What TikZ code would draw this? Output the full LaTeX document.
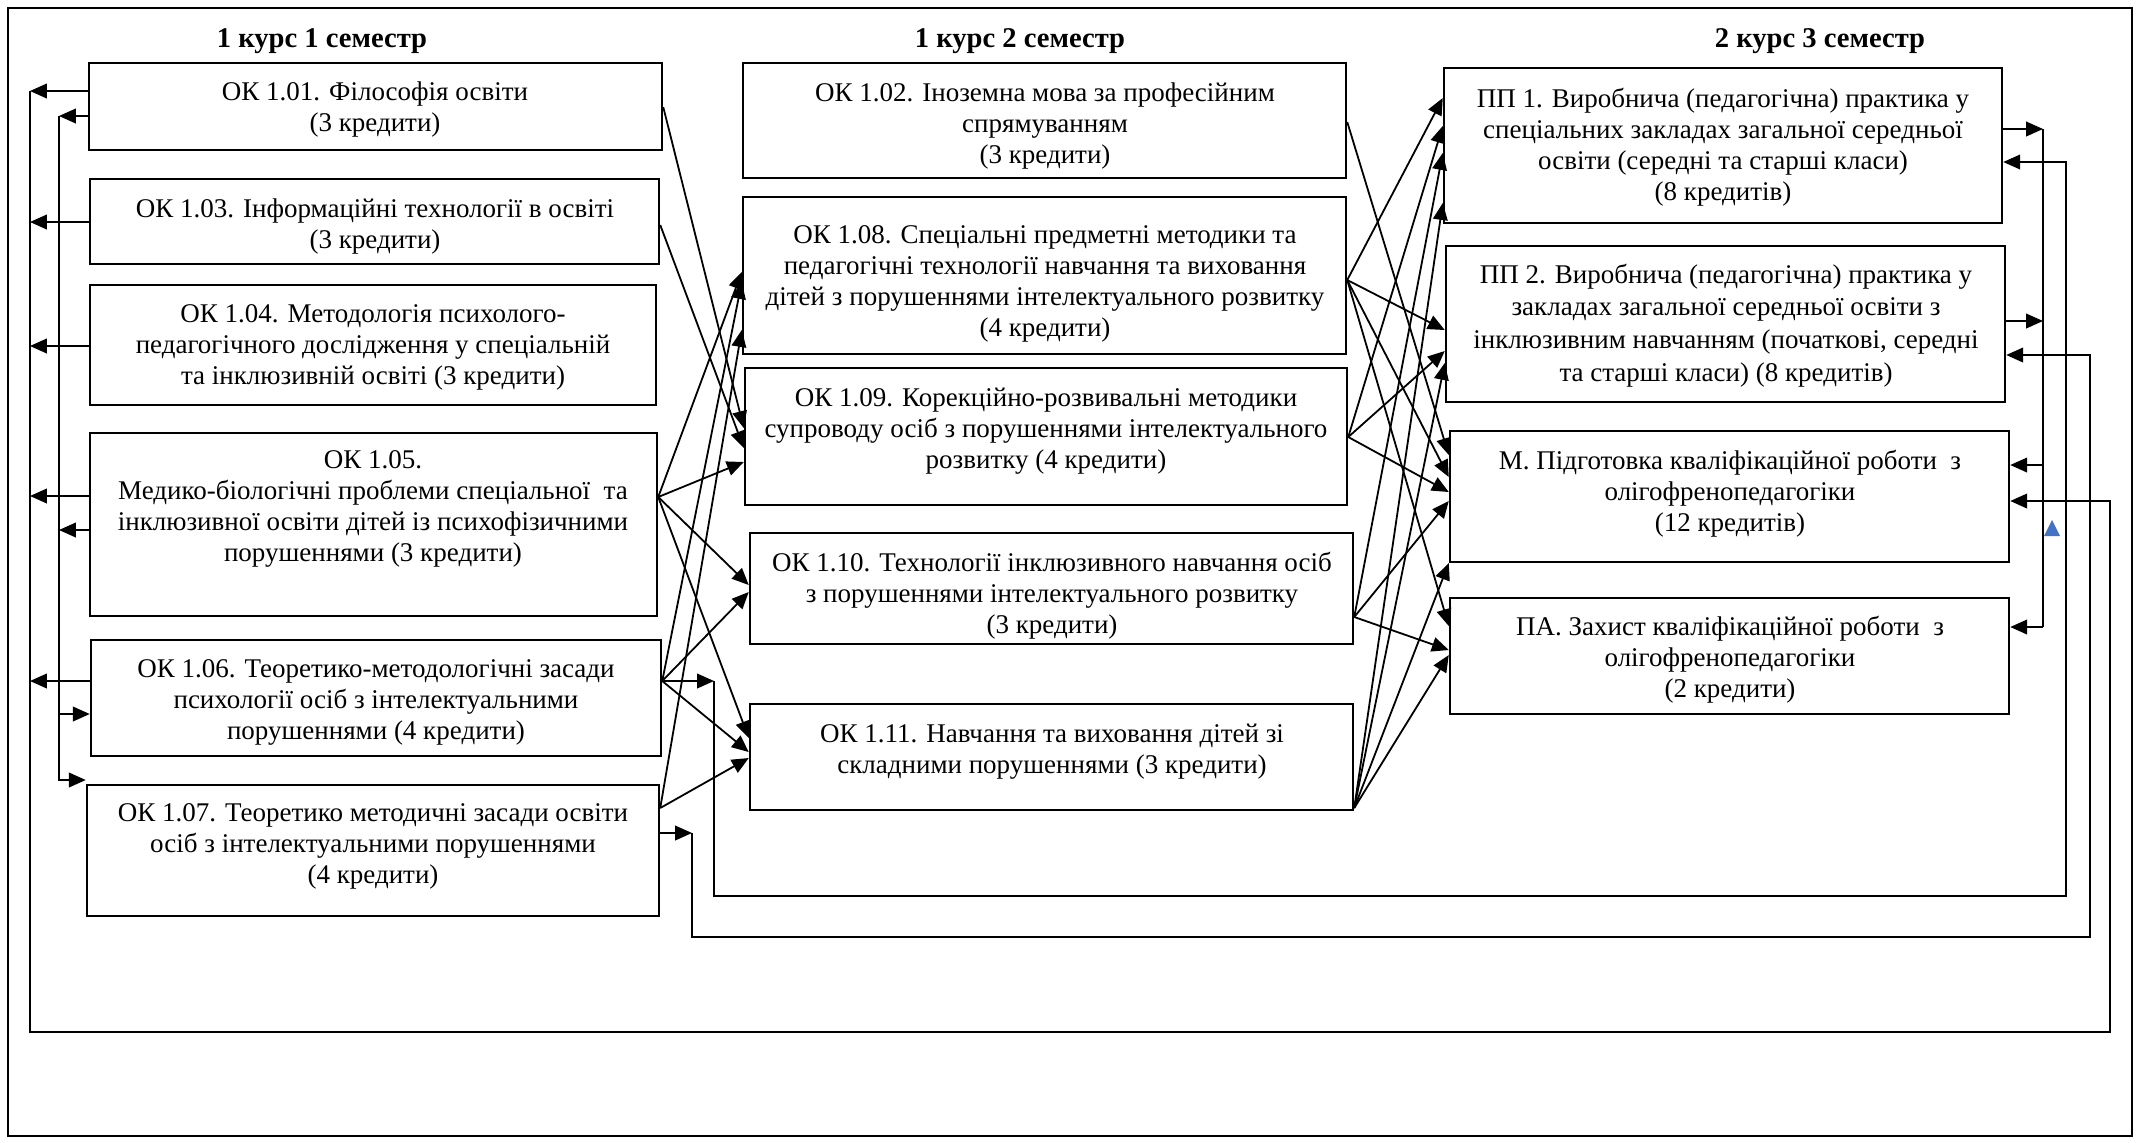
\documentclass[tikz,border=0pt]{standalone}
\usepackage{fontspec}
\setmainfont{Liberation Serif}
\usetikzlibrary{arrows.meta,fit}
\definecolor{tri}{RGB}{68,114,196}
\begin{document}
\begin{tikzpicture}[x=0.4444pt,y=-0.4444pt,
  box/.style={draw,line width=1.1pt,inner sep=0pt,fit={#1}},
  txt/.style={align=center,font=\fontsize{12}{13.8}\selectfont,inner sep=0pt,yshift=-1.6pt},
  hdr/.style={font=\fontsize{12.7}{14}\selectfont\bfseries,inner sep=0pt,yshift=-1.2pt},
  ln/.style={line width=0.8pt},
  arr/.style={line width=0.8pt,-{Triangle[length=7.5pt,width=6.5pt]}},
]
\useasboundingbox (0,0) rectangle (2141,1142);
\node[draw,line width=0.9pt,inner sep=0pt,fit={(8,8) (2132,1136)}] (frame) {};

% headers
\node[hdr] (h1) at (322,38) {1 курс 1 семестр};
\node[hdr] (h2) at (1020,38) {1 курс 2 семестр};
\node[hdr] (h3) at (1820,38) {2 курс 3 семестр};

% column 1
\node[box={(89,63) (662,150)}] (b101) {};
\node[txt] (t101) at (375,106) {ОК 1.01. Філософія освіти\\(3 кредити)};
\node[box={(90,179) (659,264)}] (b103) {};
\node[txt] (t103) at (375,223) {ОК 1.03. Інформаційні технології в освіті\\(3 кредити)};
\node[box={(90,285) (656,405)}] (b104) {};
\node[txt] (t104) at (373,344) {ОК 1.04. Методологія психолого-\\педагогічного дослідження у спеціальній\\та інклюзивній освіті (3 кредити)};
\node[box={(90,433) (657,616)}] (b105) {};
\node[txt] (t105) at (373,505) {ОК 1.05.\\Медико-біологічні проблеми спеціальної\ \ та\\інклюзивної освіти дітей із психофізичними\\порушеннями (3 кредити)};
\node[box={(91,640) (661,756)}] (b106) {};
\node[txt] (t106) at (376,699) {ОК 1.06. Теоретико-методологічні засади\\психології осіб з інтелектуальними\\порушеннями (4 кредити)};
\node[box={(87,785) (659,916)}] (b107) {};
\node[txt] (t107) at (373,843) {ОК 1.07. Теоретико методичні засади освіти\\осіб з інтелектуальними порушеннями\\(4 кредити)};

% column 2
\node[box={(743,63) (1346,178)}] (b102) {};
\node[txt] (t102) at (1045,122) {ОК 1.02. Іноземна мова за професійним\\спрямуванням\\(3 кредити)};
\node[box={(743,197) (1346,354)}] (b108) {};
\node[txt] (t108) at (1045,280) {ОК 1.08. Спеціальні предметні методики та\\педагогічні технології навчання та виховання\\дітей з порушеннями інтелектуального розвитку\\(4 кредити)};
\node[box={(745,368) (1347,505)}] (b109) {};
\node[txt] (t109) at (1046,428) {ОК 1.09. Корекційно-розвивальні методики\\супроводу осіб з порушеннями інтелектуального\\розвитку (4 кредити)};
\node[box={(750,533) (1353,644)}] (b110) {};
\node[txt] (t110) at (1052,592) {ОК 1.10. Технології інклюзивного навчання осіб\\з порушеннями інтелектуального розвитку\\(3 кредити)};
\node[box={(750,704) (1353,810)}] (b111) {};
\node[txt] (t111) at (1052,748) {ОК 1.11. Навчання та виховання дітей зі\\складними порушеннями (3 кредити)};

% column 3
\node[box={(1444,68) (2002,223)}] (bpp1) {};
\node[txt] (tpp1) at (1723,144) {ПП 1. Виробнича (педагогічна) практика у\\спеціальних закладах загальної середньої\\освіти (середні та старші класи)\\(8 кредитів)};
\node[box={(1446,246) (2005,402)}] (bpp2) {};
\node[txt,font=\fontsize{12}{14.6}\selectfont] (tpp2) at (1726,322) {ПП 2. Виробнича (педагогічна) практика у\\закладах загальної середньої освіти з\\інклюзивним навчанням (початкові, середні\\та старші класи) (8 кредитів)};
\node[box={(1450,431) (2009,562)}] (bm) {};
\node[txt] (tm) at (1730,490) {М. Підготовка кваліфікаційної роботи\ \ з\\олігофренопедагогіки\\(12 кредитів)};
\node[box={(1450,598) (2009,714)}] (bpa) {};
\node[txt] (tpa) at (1730,656) {ПА. Захист кваліфікаційної роботи\ \ з\\олігофренопедагогіки\\(2 кредити)};

% ---- left feedback lines
\coordinate (A1) at (30,91);
\coordinate (A2) at (30,1032);
\coordinate (A3) at (2110,1032);
\coordinate (A4) at (2110,501);
\draw[arr] (A1) -- (A2) -- (A3) -- (A4) -- (bm.east |- A4);
\draw[arr] (b101.west |- 0,91) -- (A1);
\draw[arr] (b103.west |- 0,222) -- (30,222);
\draw[arr] (b104.west |- 0,346) -- (30,346);
\draw[arr] (b105.west |- 0,496) -- (30,496);
\draw[arr] (b106.west |- 0,681) -- (30,681);

\coordinate (B1) at (59,116);
\coordinate (B2) at (59,780);
\draw[arr] (B1) -- (B2) -- (b107.west |- B2);
\draw[arr] (b101.west |- B1) -- (B1);
\draw[arr] (b105.west |- 0,530) -- (59,530);
\draw[arr] (59,714) -- (b106.west |- 0,714);

% ---- loops from 1.06 and 1.07
\coordinate (C1) at (714,681);
\coordinate (C2) at (714,896);
\coordinate (C3) at (2066,896);
\coordinate (C4) at (2066,162);
\draw[arr] (b106.east |- C1) -- (C1);
\draw[arr] (C1) -- (C2) -- (C3) -- (C4) -- (bpp1.east |- C4);

\coordinate (D1) at (692,833);
\coordinate (D2) at (692,937);
\coordinate (D3) at (2090,937);
\coordinate (D4) at (2090,355);
\draw[arr] (b107.east |- D1) -- (D1);
\draw[arr] (D1) -- (D2) -- (D3) -- (D4) -- (bpp2.east |- D4);

% ---- right vertical V1
\coordinate (V1) at (2043,129);
\coordinate (V2) at (2043,627);
\draw[ln] (V1) -- (V2);
\draw[arr] (bpp1.east |- V1) -- (V1);
\draw[arr] (bpp2.east |- 0,321) -- (2043,321);
\draw[arr] (2043,465) -- (bm.east |- 0,465);
\draw[arr] (V2) -- (bpa.east |- V2);
\fill[tri] (2052,520) -- (2060,536) -- (2044,536) -- cycle;

% ---- column 1 -> column 2
\draw[arr] (b101.east |- 0,107) -- (b109.west |- 0,428);
\draw[arr] (b103.east |- 0,225) -- (b109.west |- 0,448);
\draw[arr] (b105.east |- 0,497) -- (b108.west |- 0,272);
\draw[arr] (b105.east |- 0,497) -- (b109.west |- 0,462);
\draw[arr] (b105.east |- 0,497) -- (b110.west |- 0,585);
\draw[arr] (b105.east |- 0,497) -- (b111.west |- 0,738);
\draw[arr] (b106.east |- 0,681) -- (b108.west |- 0,282);
\draw[arr] (b106.east |- 0,681) -- (b110.west |- 0,592);
\draw[arr] (b106.east |- 0,681) -- (b111.west |- 0,752);
\draw[arr] (b107.east |- 0,808) -- (b108.west |- 0,330);
\draw[arr] (b107.east |- 0,808) -- (b111.west |- 0,758);

% ---- column 2 -> column 3
\draw[arr] (b102.east |- 0,122) -- (bm.west |- 0,455);
\draw[arr] (b108.east |- 0,280) -- (bpp1.west |- 0,98);
\draw[arr] (b108.east |- 0,280) -- (bpp2.west |- 0,330);
\draw[arr] (b108.east |- 0,280) -- (bm.west |- 0,477);
\draw[arr] (b108.east |- 0,280) -- (bpa.west |- 0,626);
\draw[arr] (b109.east |- 0,437) -- (bpp1.west |- 0,126);
\draw[arr] (b109.east |- 0,437) -- (bpp2.west |- 0,351);
\draw[arr] (b109.east |- 0,437) -- (bm.west |- 0,492);
\draw[arr] (b110.east |- 0,617) -- (bpp1.west |- 0,153);
\draw[arr] (b110.east |- 0,617) -- (bm.west |- 0,501);
\draw[arr] (b110.east |- 0,617) -- (bpa.west |- 0,650);
\draw[arr] (b111.east |- 0,808) -- (bpp1.west |- 0,203);
\draw[arr] (b111.east |- 0,808) -- (bpp2.west |- 0,363);
\draw[arr] (b111.east |- 0,808) -- (bm.west |- 0,563);
\draw[arr] (b111.east |- 0,808) -- (bpa.west |- 0,655);
\end{tikzpicture}
\end{document}
